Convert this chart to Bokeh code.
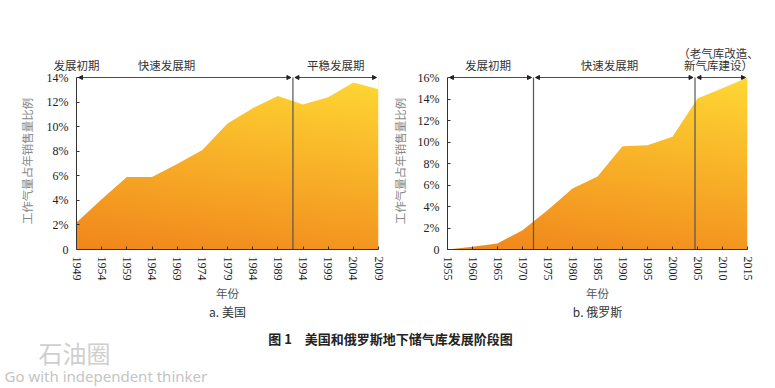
import numpy as np
from bokeh.plotting import figure
from bokeh.models import Range1d, FixedTicker, Arrow, NormalHead, Label, LinearAxis
from bokeh.layouts import column, row
from bokeh.embed import file_html
from bokeh.resources import INLINE

# ---------------- data ----------------
us_years = [1949, 1954, 1959, 1964, 1969, 1974, 1979, 1984, 1989, 1994, 1999, 2004, 2009]
us_share = [2.2, 4.1, 5.9, 5.9, 6.95, 8.1, 10.25, 11.5, 12.5, 11.8, 12.4, 13.6, 13.05]
us_xticks = [1949, 1954, 1959, 1964, 1969, 1974, 1979, 1984, 1989, 1994, 1999, 2004, 2009]
us_yticks = [0, 2, 4, 6, 8, 10, 12, 14]
us_ylabels = ["0", "2%", "4%", "6%", "8%", "10%", "12%", "14%"]
us_stage_bounds = [1949, 1992, 2009]
us_stage_names = ["发展初期", "快速发展期", "平稳发展期"]
us_stage_label_x = [1949, 1966.9, 2000.5]

ru_years = [1955, 1960, 1965, 1970, 1975, 1980, 1985, 1990, 1995, 2000, 2005, 2010, 2015]
ru_share = [0.0, 0.25, 0.56, 1.8, 3.66, 5.67, 6.8, 9.6, 9.7, 10.5, 14.05, 15.0, 16.0]
ru_xticks = [1955, 1960, 1965, 1970, 1975, 1980, 1985, 1990, 1995, 2000, 2005, 2010, 2015]
ru_yticks = [0, 2, 4, 6, 8, 10, 12, 14, 16]
ru_ylabels = ["0", "2%", "4%", "6%", "8%", "10%", "12%", "14%", "16%"]
ru_stage_bounds = [1955, 1972.2, 2004.5, 2015]
ru_stage_names = ["发展初期", "快速发展期", "（老气库改造、\n新气库建设）"]
ru_stage_label_x = [1963.1, 1987.4, 2009.2]

y_title = "工作气量占年销售量比例"
x_title = "年份"
sub_titles = ["a. 美国", "b. 俄罗斯"]
fig_title = "图 1　美国和俄罗斯地下储气库发展阶段图"
watermark = ["石油圈", "Go with independent thinker"]

CJK = "Noto Sans CJK SC"
SERIF = "Liberation Serif"
C0 = np.array([241, 134, 28])
C1 = np.array([255, 216, 52])
FRAME_H = 172      # px from 0 to the top tick
HEAD_PX = 5        # px of free space above the top tick (keeps arrows unclipped)


def gradient(nx, ny):
    xs = np.linspace(0, 1, nx)[None, :]
    ys = np.linspace(0, 1, ny)[:, None]
    t = np.clip(0.8 * ys + 0.2 * xs, 0, 1)[..., None]
    rgb = (C0 + (C1 - C0) * t).astype(np.uint32)
    img = np.empty((ny, nx), dtype=np.uint32)
    view = img.view(dtype=np.uint8).reshape((ny, nx, 4))
    view[..., 0] = rgb[..., 0]
    view[..., 1] = rgb[..., 1]
    view[..., 2] = rgb[..., 2]
    view[..., 3] = 255
    return img


def stage_axis(ticks, labels, standoff):
    ax = LinearAxis(ticker=FixedTicker(ticks=ticks),
                    major_label_overrides={x: nm for x, nm in zip(ticks, labels)})
    ax.axis_line_color = None
    ax.major_tick_line_color = None
    ax.minor_tick_line_color = None
    ax.major_tick_in = 0
    ax.major_tick_out = 0
    ax.major_label_standoff = standoff
    ax.major_label_text_font = CJK
    ax.major_label_text_font_size = "11.5px"
    ax.major_label_text_color = "#333333"
    return ax


def make_panel(years, share, xticks, yticks, ylabels, bounds, names, label_x,
               sub, width, height, mb_left, mb_right, ylab_standoff, tick_standoff):
    x0, x1 = xticks[0], xticks[-1]
    ymax = yticks[-1]
    px_per_unit = FRAME_H / ymax
    ytop = ymax + HEAD_PX / px_per_unit
    p = figure(width=width, height=height, output_backend="svg", toolbar_location=None,
               x_range=Range1d(x0, x1), y_range=Range1d(0, ytop),
               min_border_left=mb_left, min_border_right=mb_right,
               min_border_top=77 - HEAD_PX, min_border_bottom=height - 249)
    p.outline_line_color = None
    p.grid.visible = False
    p.background_fill_color = "white"
    p.border_fill_color = "white"
    xa = p.below[0]
    ya = p.left[0]

    p.image_rgba(image=[gradient(300, 172)], x=x0, y=0, dw=x1 - x0, dh=ymax)
    p.varea(x=years, y1=share, y2=[ymax] * len(years), fill_color="white")

    inner = bounds[1:-1]
    p.segment(x0=inner, y0=[0] * len(inner), x1=inner, y1=[ymax] * len(inner),
              line_color="#555555", line_width=1.2)

    for a, b in zip(bounds[:-1], bounds[1:]):
        p.add_layout(Arrow(x_start=a + 0.4, y_start=ymax, x_end=b - 0.4, y_end=ymax,
                           line_width=0.8, line_color="#222222",
                           start=NormalHead(size=4, fill_color="#222222", line_color="#222222"),
                           end=NormalHead(size=4, fill_color="#222222", line_color="#222222")))

    # stage names: axes above the frame, one tick per stage label (last line nearest the frame)
    split = [nm.split("\n") for nm in names]
    nrows = max(len(s) for s in split)
    for r in range(nrows):
        tk, lb = [], []
        for lx, s in zip(label_x, split):
            if r < len(s):
                tk.append(lx)
                lb.append(s[len(s) - 1 - r])
        p.add_layout(stage_axis(tk, lb, 0 if r == 0 else -7), "above")

    xa.ticker = FixedTicker(ticks=xticks)
    ya.ticker = FixedTicker(ticks=yticks)
    ya.bounds = (0, ymax)
    ya.major_label_overrides = {t: l for t, l in zip(yticks, ylabels)}
    xa.major_label_orientation = "vertical"
    for ax in (xa, ya):
        ax.major_tick_in = 3
        ax.major_tick_out = 0
        ax.minor_tick_line_color = None
        ax.axis_line_color = "#333333"
        ax.major_tick_line_color = "#333333"
        ax.major_label_text_font = SERIF
        ax.major_label_text_font_size = "12px"
        ax.major_label_text_color = "#222222"
        ax.axis_label_text_font = CJK
        ax.axis_label_text_font_style = "normal"
        ax.axis_label_text_font_size = "11.5px"
    xa.major_label_standoff = 7
    ya.major_label_standoff = tick_standoff
    xa.axis_label = x_title
    xa.axis_label_standoff = 1
    xa.axis_label_text_color = "#555555"
    ya.axis_label = y_title
    ya.axis_label_standoff = ylab_standoff
    ya.axis_label_text_color = "#888888"

    p.title.text = sub
    p.title_location = "below"
    p.title.align = "center"
    p.title.text_font = CJK
    p.title.text_font_style = "normal"
    p.title.text_font_size = "12px"
    p.title.text_color = "#333333"
    p.title.standoff = -5
    return p


p1 = make_panel(us_years, us_share, us_xticks, us_yticks, us_ylabels, us_stage_bounds,
                us_stage_names, us_stage_label_x, sub_titles[0], 388, 328, 76, 10, 9, 8)
p2 = make_panel(ru_years, ru_share, ru_xticks, ru_yticks, ru_ylabels, ru_stage_bounds,
                ru_stage_names, ru_stage_label_x, sub_titles[1], 387, 328, 57, 28, 7, 8)

p3 = figure(width=775, height=60, output_backend="svg", toolbar_location=None,
            x_range=Range1d(0, 775), y_range=Range1d(0, 60), min_border=0)
p3.axis.visible = False
p3.grid.visible = False
p3.outline_line_color = None
p3.add_layout(Label(x=390, y=50, text=fig_title, text_align="center", text_baseline="middle",
                    text_font=CJK, text_font_size="13px", text_font_style="bold",
                    text_color="#222222"))
p3.add_layout(Label(x=38, y=36, text=watermark[0], text_align="left", text_baseline="middle",
                    text_font=CJK, text_font_size="24px", text_color="#cfcfcf"))
p3.add_layout(Label(x=4, y=13, text=watermark[1], text_align="left", text_baseline="middle",
                    text_font="Noto Sans", text_font_size="15px", text_color="#c4c4c4"))

layout = column(row(p1, p2), p3)
open("out.html", "w").write(file_html(layout, INLINE))
